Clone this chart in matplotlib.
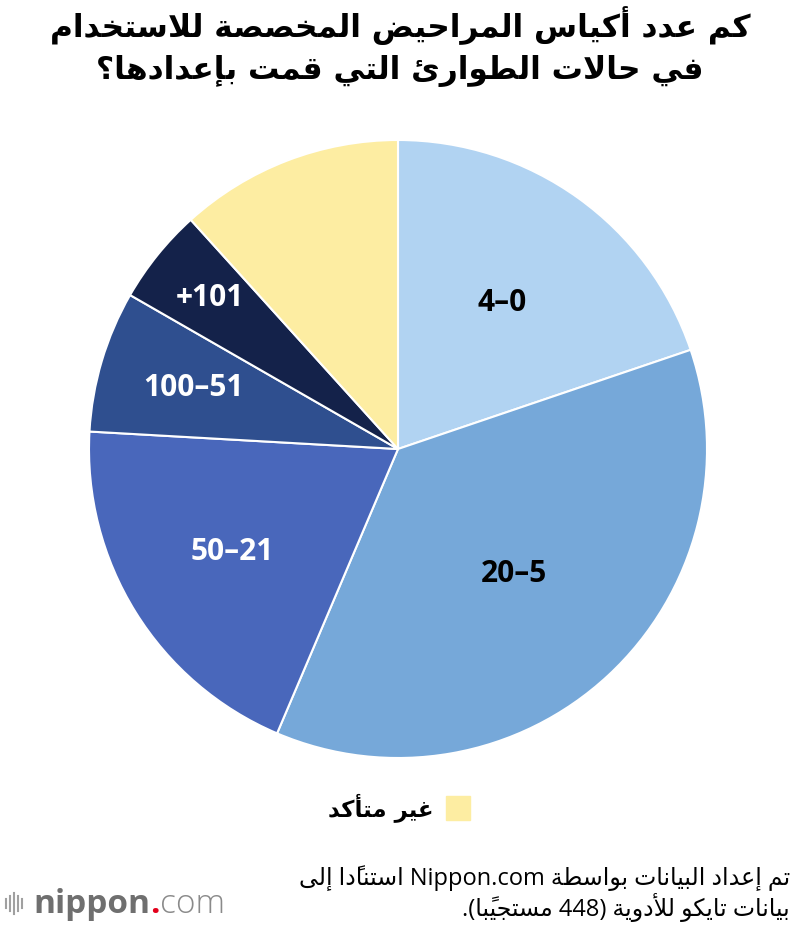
import re
import numpy as np
import matplotlib
matplotlib.use("Agg")
import matplotlib.pyplot as plt
from matplotlib.patches import Rectangle
from matplotlib.lines import Line2D

# ---------------- data ----------------
categories = ["0–4", "5–20", "21–50", "51–100", "101+", "غير متأكد"]
values = [19.8, 36.6, 19.5, 7.4, 5.0, 11.7]
colors = ["#b1d3f2", "#76a8d9", "#4967bb", "#2f4f8f", "#14224a", "#fdeda2"]
label_colors = ["black", "black", "white", "white", "white"]
label_radius = [0.58, 0.55, 0.63, 0.69, 0.78]

title_lines = ["كم عدد أكياس المراحيض المخصصة للاستخدام",
               "في حالات الطوارئ التي قمت بإعدادها؟"]
legend_label = categories[5]
footer_lines = ["تم إعداد البيانات بواسطة Nippon.com استنادًا إلى",
                "بيانات تايكو للأدوية (448 مستجيبًا)."]

# ---------------- minimal Arabic shaping + bidi ----------------
D_START = {'\u0626': 0xFE89, '\u0628': 0xFE8F, '\u062A': 0xFE95, '\u062B': 0xFE99,
           '\u062C': 0xFE9D, '\u062D': 0xFEA1, '\u062E': 0xFEA5, '\u0633': 0xFEB1,
           '\u0634': 0xFEB5, '\u0635': 0xFEB9, '\u0636': 0xFEBD, '\u0637': 0xFEC1,
           '\u0638': 0xFEC5, '\u0639': 0xFEC9, '\u063A': 0xFECD, '\u0641': 0xFED1,
           '\u0642': 0xFED5, '\u0643': 0xFED9, '\u0644': 0xFEDD, '\u0645': 0xFEE1,
           '\u0646': 0xFEE5, '\u0647': 0xFEE9, '\u064A': 0xFEF1}
R_START = {'\u0622': 0xFE81, '\u0623': 0xFE83, '\u0624': 0xFE85, '\u0625': 0xFE87,
           '\u0627': 0xFE8D, '\u0629': 0xFE93, '\u062F': 0xFEA9, '\u0630': 0xFEAB,
           '\u0631': 0xFEAD, '\u0632': 0xFEAF, '\u0648': 0xFEED, '\u0649': 0xFEEF}
LAM_ALEF = {'\u0622': 0xFEF5, '\u0623': 0xFEF7, '\u0625': 0xFEF9, '\u0627': 0xFEFB}


def is_mark(c):
    return '\u064B' <= c <= '\u0652' or c == '\u0670'


def shape(s):
    n = len(s)

    def prev_idx(i):
        j = i - 1
        while j >= 0 and is_mark(s[j]):
            j -= 1
        return j

    def next_idx(i):
        j = i + 1
        while j < n and is_mark(s[j]):
            j += 1
        return j

    out = []
    i = 0
    while i < n:
        c = s[i]
        p = prev_idx(i)
        pj = p >= 0 and s[p] in D_START
        if c == '\u0644':
            j = next_idx(i)
            if j < n and s[j] in LAM_ALEF:
                out.append(chr(LAM_ALEF[s[j]] + (1 if pj else 0)))
                out.extend(s[i + 1:j])
                i = j + 1
                continue
        if c in D_START:
            j = next_idx(i)
            nj = j < n and (s[j] in D_START or s[j] in R_START)
            form = 3 if (pj and nj) else (1 if pj else (2 if nj else 0))
            out.append(chr(D_START[c] + form))
        elif c in R_START:
            out.append(chr(R_START[c] + (1 if pj else 0)))
        elif c == '\u0621':
            out.append('\uFE80')
        else:
            out.append(c)
        i += 1
    return ''.join(out)


MIRROR = {'(': ')', ')': '(', '[': ']', ']': '[', '«': '»', '»': '«'}
LTR_RUN = re.compile(r'([A-Za-z0-9]+(?:[.,:/][A-Za-z0-9]+)*)')


def visual(s):
    shaped = shape(s)
    pieces = LTR_RUN.split(shaped)
    res = []
    for piece in reversed(pieces):
        if not piece:
            continue
        if LTR_RUN.fullmatch(piece):
            res.append(piece)
        else:
            clusters = []
            for ch in piece:
                if is_mark(ch) and clusters:
                    clusters[-1] += ch
                else:
                    clusters.append(ch)
            res.append(''.join(MIRROR.get(cl, cl) for cl in reversed(clusters)))
    return ''.join(res)


# ---------------- figure ----------------
W, H = 800, 926
fig = plt.figure(figsize=(W / 100, H / 100), dpi=100)
fig.patch.set_facecolor("white")

cx, cy, R = 398, 449, 309
ax = fig.add_axes([(cx - R) / W, (H - cy - R) / H, 2 * R / W, 2 * R / H])
wedges, _ = ax.pie(values, colors=colors, startangle=90, counterclock=False,
                   radius=1, wedgeprops=dict(edgecolor="white", linewidth=1.5))
ax.set_xlim(-1, 1)
ax.set_ylim(-1, 1)
ax.set_aspect("equal")
ax.axis("off")

for w, lab, col, r in zip(wedges[:5], categories[:5], label_colors, label_radius):
    ang = np.deg2rad((w.theta1 + w.theta2) / 2)
    ax.text(r * np.cos(ang), r * np.sin(ang), visual(lab), ha="center", va="center",
            color=col, fontsize=21.5, fontweight="bold",
            family=["Open Sans", "DejaVu Sans"])

# title
for k, line in enumerate(title_lines):
    fig.text(0.5, 1 - (26 + 45 * k) / H, visual(line), ha="center", va="center",
             fontsize=22.5, fontweight="bold", family=["DejaVu Sans"], color="black")

# legend
fig.patches.append(Rectangle((446 / W, (H - 820) / H), 24 / W, 24 / H,
                             transform=fig.transFigure, color=colors[5], zorder=3))
fig.text(433 / W, 1 - 808 / H, visual(legend_label), ha="right", va="center",
         fontsize=16.5, fontweight="bold", family=["DejaVu Sans"], color="black")

# footer
for k, line in enumerate(footer_lines):
    fig.text(790 / W, 1 - (878 + 30 * k) / H, visual(line), ha="right", va="center",
             fontsize=17, family=["Open Sans", "DejaVu Sans"], color="black")

# logo
bar_x = [6, 10, 14, 18, 22]
bar_h = [9, 15, 21, 15, 9]
for bx, bh in zip(bar_x, bar_h):
    fig.add_artist(Line2D([bx / W, bx / W], [(H - 903 - bh / 2) / H, (H - 903 + bh / 2) / H],
                          transform=fig.transFigure, color="#a0a0a0", linewidth=1.5))

renderer = fig.canvas.get_renderer()
base_y = 1 - 913 / H
t1 = fig.text(33 / W, base_y, "nippon", ha="left", va="baseline", fontsize=24,
              fontweight="bold", family="Open Sans", color="#6f6f6f")
bb = t1.get_window_extent(renderer)
t2 = fig.text(bb.x1 / W, base_y, ".", ha="left", va="baseline", fontsize=24,
              fontweight="bold", family="Open Sans", color="#e3001b")
bb2 = t2.get_window_extent(renderer)
fig.text(bb2.x1 / W, base_y, "com", ha="left", va="baseline", fontsize=24,
         fontweight="light", family="Open Sans", color="#8a8a8a")

fig.savefig("out.png", dpi=100, facecolor="white")
